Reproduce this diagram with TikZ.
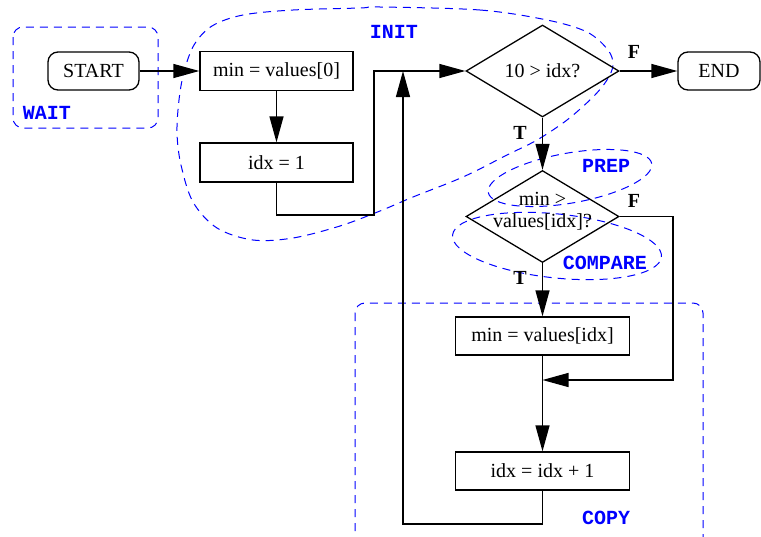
\documentclass[tikz,border=0pt]{standalone}
\usepackage{fontspec}
\setmainfont{Liberation Serif}
\newfontfamily\regfont{Liberation Mono}
\usetikzlibrary{shapes.geometric,arrows.meta}
\begin{document}
\begin{tikzpicture}[x=0.5pt,y=-0.5pt,
  every node/.style={font=\fontsize{10}{11}\selectfont},
  box/.style={draw,line width=0.65pt,minimum width=76.5pt,minimum height=19.5pt,inner sep=0pt},
  widebox/.style={box,minimum width=87pt,minimum height=19pt},
  term/.style={box,rounded corners=5pt,minimum width=45.5pt,minimum height=19pt},
  dec/.style={draw,diamond,line width=0.65pt,minimum width=76.5pt,minimum height=46pt,inner sep=0pt},
  flow/.style={line width=0.65pt},
  arr/.style={flow,-{Triangle[length=13pt,width=7pt]}},
  region/.style={draw=blue,line width=0.5pt,dash pattern=on 4pt off 3pt},
  rlabel/.style={text=blue,font=\fontsize{10}{11}\regfont\bfseries},
  tf/.style={font=\fontsize{10}{11}\selectfont\bfseries}
]
\clip (0,0) rectangle (761,536);
\fill[white] (0,0) rectangle (761,536);

% regions
\draw[region,rounded corners=5pt] (13,27) rectangle (158,128);
\node[rlabel] (lwait) at (47,113) {WAIT};

\draw[region] plot[smooth cycle,tension=0.55] coordinates {
 (380,7) (480,10) (547,20) (587,32) (608,50) (613,65) (607,80) (593,97)
 (567,120) (537,140) (507,155) (463,177) (413,197) (380,211) (340,226)
 (293,238) (253,240) (217,228) (193,202) (181,165) (177,133) (179,100)
 (184,72) (194,45) (212,26) (243,15) (293,10) (360,8)};
\node[rlabel] (linit) at (394,32) {INIT};

\draw[region,rotate around={10:(570,178)}] (570,178) ellipse [x radius=41.5pt,y radius=12.5pt];
\node[rlabel] (lprep) at (606,166) {PREP};

\draw[region,rotate around={-6:(557,246)}] (557,246) ellipse [x radius=52.5pt,y radius=16pt];
\node[rlabel] (lcomp) at (605,263) {COMPARE};

\draw[region,rounded corners=5pt] (355,303) rectangle (703,580);
\node[rlabel] (lcopy) at (606,518) {COPY};

% nodes
\node[term] (start) at (93.5,71) {START};
\node[box] (v0) at (276.5,71) {min = values[0]};
\node[box] (i1) at (276.5,162.5) {idx = 1};
\node[dec] (d1) at (542.5,71) {10 > idx?};
\node[term,minimum width=41pt] (endn) at (719,71) {END};
\node[dec] (d2) at (542.5,216.5) {\makebox[0pt]{\smash{\raisebox{5.75pt}{\begin{tabular}[t]{@{}c@{}}min >\\values[idx]?\end{tabular}}}}};
\node[widebox] (mv) at (542.5,336) {min = values[idx]};
\node[widebox] (inc) at (542.5,471) {idx = idx + 1};

\coordinate (j1) at (374,215);
\coordinate (k1) at (673,380);
\coordinate (l1) at (403,524);
\coordinate (l2) at (403,71);

% connectors
\draw[arr] (start.east) -- (v0.west);
\draw[arr] (v0) -- (i1);
\draw[arr] (i1.south) |- (j1) |- (d1.west);
\draw[arr] (d1.east) -- (endn.west);
\draw[arr] (d1.south) -- (d2.north);
\draw[arr] (d2.south) -- (mv.north);
\draw[arr] (d2.east) -| (k1) -- (mv.south |- k1);
\draw[arr] (mv.south) -- (inc.north);
\draw[arr] (inc.south) |- (l1) -- (l2);

\node[tf] (f1) at (634,52) {F};
\node[tf] (t1) at (520,133) {T};
\node[tf] (f2) at (634,201) {F};
\node[tf] (t2) at (520,278) {T};
\end{tikzpicture}
\end{document}
